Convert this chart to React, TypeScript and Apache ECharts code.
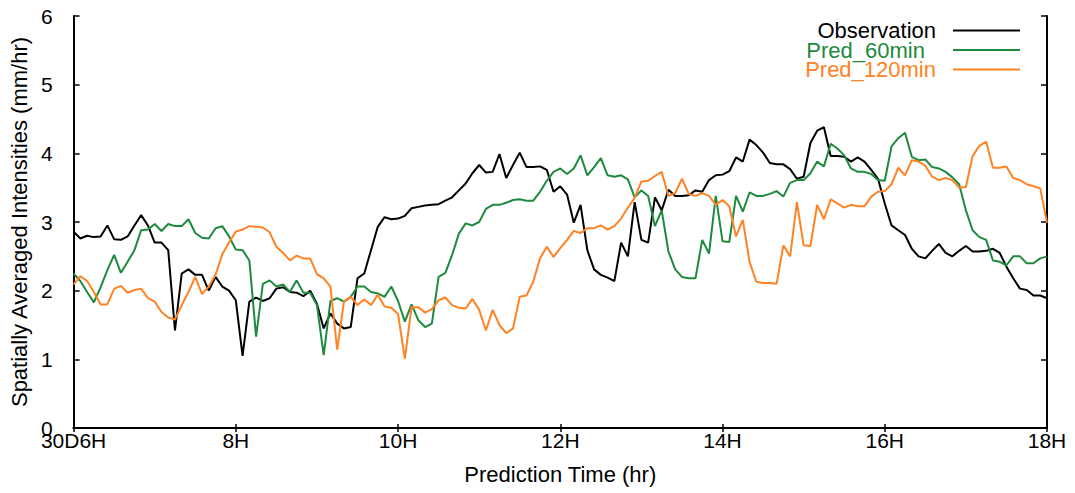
import React, { useEffect, useRef } from "react";
import * as echarts from "echarts";

// Time base: samples every 5 minutes starting at 06:00 on day 30
const START_HOUR = 6;
const STEP_MIN = 5;

const seriesNames = ["Observation", "Pred_60min", "Pred_120min"];
const seriesColors = ["#000000", "#1e8a3e", "#ff8225"];

// Spatially averaged rain intensities (mm/hr)
const observation = [
  2.86, 2.76, 2.8, 2.78, 2.79, 2.95, 2.75, 2.74, 2.79, 2.95, 3.1, 2.95, 2.7, 2.7, 2.59, 1.42,
  2.25, 2.31, 2.23, 2.23, 2.0, 2.2, 2.06, 2.0, 1.86, 1.05, 1.84, 1.9, 1.85, 1.89, 2.03, 2.05,
  1.98, 1.97, 1.92, 2.0, 1.81, 1.45, 1.67, 1.52, 1.45, 1.47, 2.18, 2.25, 2.59, 2.93, 3.07, 3.04,
  3.05, 3.09, 3.2, 3.22, 3.24, 3.25, 3.26, 3.31, 3.36, 3.46, 3.56, 3.71, 3.83, 3.72, 3.73, 3.99,
  3.64, 3.83, 4.01, 3.8, 3.8, 3.81, 3.76, 3.44, 3.52, 3.4, 2.99, 3.25, 2.59, 2.31, 2.23, 2.19,
  2.14, 2.7, 2.5, 3.29, 2.74, 2.7, 3.36, 3.17, 3.47, 3.38, 3.38, 3.39, 3.46, 3.44, 3.61, 3.68,
  3.69, 3.74, 3.94, 3.88, 4.2, 4.12, 4.01, 3.86, 3.84, 3.84, 3.77, 3.63, 3.66, 4.15, 4.33, 4.38,
  3.96, 3.96, 3.95, 3.88, 3.94, 3.88, 3.76, 3.63, 3.27, 2.95, 2.88, 2.81, 2.61, 2.5, 2.47, 2.58,
  2.68, 2.55, 2.5, 2.58, 2.65, 2.57, 2.57, 2.58, 2.61, 2.55, 2.35, 2.18, 2.03, 2.01, 1.93, 1.93,
  1.89,
];

const pred60 = [
  2.25, 2.14, 1.98, 1.83, 2.05, 2.3, 2.52, 2.26, 2.42, 2.59, 2.88, 2.89, 2.97, 2.87, 2.97, 2.94,
  2.94, 3.04, 2.84, 2.77, 2.76, 2.91, 2.94, 2.79, 2.6, 2.59, 2.44, 1.33, 2.1, 2.15, 2.06, 2.09,
  1.98, 2.15, 1.97, 1.97, 1.79, 1.06, 1.85, 1.89, 1.84, 1.91, 2.06, 2.06, 1.98, 1.96, 1.91, 2.06,
  1.85, 1.55, 1.8, 1.57, 1.47, 1.52, 2.2, 2.26, 2.52, 2.83, 2.98, 2.95, 3.0, 3.19, 3.25, 3.25,
  3.28, 3.32, 3.33, 3.31, 3.31, 3.44, 3.6, 3.73, 3.78, 3.7, 3.78, 3.97, 3.68, 3.8, 3.93, 3.68,
  3.66, 3.68, 3.62, 3.36, 3.46, 3.38, 2.94, 3.17, 2.57, 2.31, 2.2, 2.18, 2.18, 2.74, 2.54, 3.38,
  2.72, 2.71, 3.38, 3.15, 3.43, 3.38, 3.38, 3.41, 3.45, 3.37, 3.57, 3.61, 3.61, 3.71, 3.88, 3.81,
  4.14, 4.07, 3.97, 3.78, 3.73, 3.73, 3.7, 3.61, 3.6, 4.1, 4.22, 4.3, 3.95, 3.9, 3.91, 3.8,
  3.78, 3.73, 3.65, 3.55, 3.17, 2.88, 2.78, 2.74, 2.44, 2.42, 2.37, 2.5, 2.5, 2.4, 2.4, 2.47,
  2.5,
];

const pred120 = [
  2.09, 2.21, 2.14, 1.98, 1.8, 1.8, 2.03, 2.07, 1.97, 2.01, 2.03, 1.89, 1.84, 1.69, 1.61, 1.58,
  1.79, 1.98, 2.2, 1.95, 2.06, 2.23, 2.53, 2.7, 2.86, 2.89, 2.94, 2.93, 2.92, 2.85, 2.64, 2.55,
  2.44, 2.51, 2.47, 2.47, 2.24, 2.18, 2.06, 1.14, 1.84, 1.91, 1.79, 1.87, 1.79, 1.94, 1.77, 1.75,
  1.66, 1.01, 1.76, 1.76, 1.68, 1.73, 1.86, 1.9, 1.79, 1.75, 1.74, 1.88, 1.72, 1.42, 1.72, 1.5,
  1.38, 1.45, 1.91, 1.93, 2.13, 2.47, 2.64, 2.49, 2.62, 2.74, 2.87, 2.84, 2.91, 2.91, 2.95, 2.89,
  2.94, 3.05, 3.21, 3.35, 3.59, 3.6, 3.67, 3.73, 3.38, 3.42, 3.63, 3.41, 3.38, 3.42, 3.38, 3.25,
  3.32, 3.23, 2.79, 3.03, 2.42, 2.13, 2.11, 2.11, 2.1, 2.66, 2.5, 3.29, 2.66, 2.65, 3.25, 3.04,
  3.33, 3.27, 3.21, 3.25, 3.23, 3.23, 3.37, 3.44, 3.45, 3.55, 3.79, 3.68, 3.9, 3.88, 3.82, 3.66,
  3.61, 3.64, 3.61, 3.5, 3.51, 3.96, 4.11, 4.17, 3.79, 3.79, 3.81, 3.64, 3.61, 3.55, 3.52, 3.49,
  2.99,
];

const X_MIN = 6;
const X_MAX = 18;
const X_STEP = 2;
const Y_MIN = 0;
const Y_MAX = 6;
const Y_STEP = 1;

const FONT = '"Liberation Sans", Arial, Helvetica, sans-serif';

const toPairs = (vals: number[]) =>
  vals.map((v, i) => [START_HOUR + (i * STEP_MIN) / 60, v]);

const hourLabel = (v: number) => (v === X_MIN ? "30D6H" : `${v}H`);

export default function App() {
  const ref = useRef<HTMLDivElement>(null);

  useEffect(() => {
    if (!ref.current) return;
    const chart = echarts.init(ref.current, undefined, { renderer: "svg" });

    const axisLine = { show: true, lineStyle: { color: "#000", width: 2 } };
    const tickStyle = { color: "#000", width: 1.5 };

    const legendTops = [19.5, 39, 58.5];
    const legendPads = [12, 23, 12];

    const option: echarts.EChartsOption = {
      animation: false,
      backgroundColor: "#ffffff",
      grid: { left: 73, right: 28, top: 16, bottom: 65, containLabel: false },
      legend: seriesNames.map((name, k) => ({
        data: [name],
        orient: "vertical",
        align: "right",
        right: 55,
        top: legendTops[k],
        padding: 0,
        icon: "rect",
        itemWidth: 67,
        itemHeight: 2,
        selectedMode: false,
        formatter: (n: string) => `{a|${n}}`,
        textStyle: {
          color: seriesColors[k],
          fontFamily: FONT,
          fontSize: 22,
          rich: {
            a: {
              color: seriesColors[k],
              fontFamily: FONT,
              fontSize: 22,
              lineHeight: 20,
              padding: [0, legendPads[k], 0, 0],
            },
          },
        },
      })),
      xAxis: [
        {
          type: "value",
          position: "bottom",
          min: X_MIN,
          max: X_MAX,
          interval: X_STEP,
          name: "Prediction Time (hr)",
          nameLocation: "middle",
          nameGap: 35,
          nameTextStyle: { color: "#000", fontFamily: FONT, fontSize: 22 },
          axisLine,
          axisTick: { show: true, inside: true, length: 4, lineStyle: tickStyle },
          axisLabel: {
            color: "#000",
            fontFamily: FONT,
            fontSize: 21,
            margin: 2,
            formatter: hourLabel,
          },
          splitLine: { show: false },
        },
        {
          type: "value",
          position: "top",
          min: X_MIN,
          max: X_MAX,
          interval: X_STEP,
          axisLine,
          axisTick: { show: true, inside: true, length: 4, lineStyle: tickStyle },
          axisLabel: { show: false },
          splitLine: { show: false },
        },
      ],
      yAxis: [
        {
          type: "value",
          position: "left",
          min: Y_MIN,
          max: Y_MAX,
          interval: Y_STEP,
          name: "Spatially Averaged Intensities (mm/hr)",
          nameLocation: "middle",
          nameGap: 42,
          nameTextStyle: { color: "#000", fontFamily: FONT, fontSize: 22 },
          axisLine,
          axisTick: { show: true, inside: true, length: 6, lineStyle: tickStyle },
          axisLabel: { color: "#000", fontFamily: FONT, fontSize: 21, margin: 21 },
          splitLine: { show: false },
        },
        {
          type: "value",
          position: "right",
          min: Y_MIN,
          max: Y_MAX,
          interval: Y_STEP,
          axisLine,
          axisTick: { show: true, inside: true, length: 6, lineStyle: tickStyle },
          axisLabel: { show: false },
          splitLine: { show: false },
        },
      ],
      series: [observation, pred60, pred120].map((vals, k) => ({
        name: seriesNames[k],
        type: "line",
        xAxisIndex: 0,
        yAxisIndex: 0,
        data: toPairs(vals),
        symbol: "none",
        showSymbol: false,
        color: seriesColors[k],
        lineStyle: { color: seriesColors[k], width: 2 },
        itemStyle: { color: seriesColors[k] },
        emphasis: { disabled: true },
        z: 2 + k,
      })),
    };

    chart.setOption(option);
    return () => chart.dispose();
  }, []);

  return (
    <div
      ref={ref}
      style={{ position: "absolute", left: 0, top: 0, width: 1075, height: 493 }}
    />
  );
}
